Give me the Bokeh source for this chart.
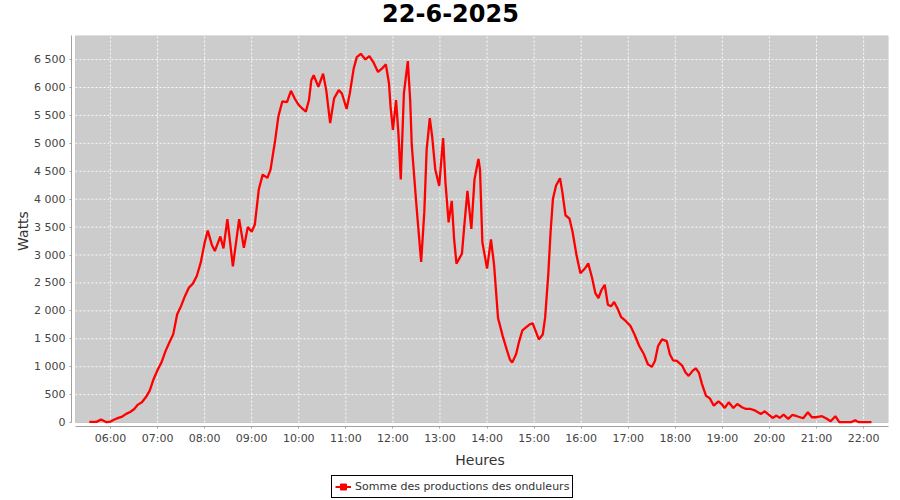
from bokeh.plotting import figure
from bokeh.layouts import column
from bokeh.models import (BoxAnnotation, FixedTicker, Legend, LegendItem, Label, Range1d)
from bokeh.embed import file_html
from bokeh.resources import INLINE

# ---- data ----
times = [
    "05:33", "05:42", "05:48", "05:55", "06:00", "06:05", "06:10", "06:15", "06:20", "06:25",
    "06:30", "06:35", "06:40", "06:45", "06:50", "06:55", "07:00", "07:05", "07:10", "07:15",
    "07:20", "07:25", "07:30", "07:35", "07:40", "07:45", "07:50", "07:55", "08:00", "08:04",
    "08:09", "08:13", "08:20", "08:24", "08:29", "08:36", "08:44", "08:50", "08:55", "09:00",
    "09:04", "09:09", "09:14", "09:20", "09:24", "09:30", "09:34", "09:39", "09:45", "09:50",
    "09:55", "10:00", "10:05", "10:09", "10:13", "10:16", "10:19", "10:25", "10:31", "10:35",
    "10:40", "10:45", "10:51", "10:55", "11:01", "11:05", "11:10", "11:14", "11:19", "11:25",
    "11:30", "11:35", "11:41", "11:46", "11:51", "11:55", "11:57", "12:00", "12:04", "12:07",
    "12:10", "12:14", "12:19", "12:22", "12:24", "12:30", "12:36", "12:40", "12:43", "12:47",
    "12:50", "12:54", "12:59", "13:04", "13:07", "13:11", "13:15", "13:18", "13:21", "13:28",
    "13:31", "13:35", "13:40", "13:44", "13:49", "13:51", "13:54", "14:00", "14:05", "14:09",
    "14:14", "14:20", "14:25", "14:29", "14:32", "14:37", "14:41", "14:45", "14:50", "14:54",
    "14:58", "15:02", "15:06", "15:11", "15:14", "15:18", "15:21", "15:24", "15:28", "15:33",
    "15:36", "15:40", "15:45", "15:49", "15:54", "15:59", "16:05", "16:09", "16:14", "16:18",
    "16:22", "16:26", "16:30", "16:34", "16:38", "16:42", "16:46", "16:51", "16:57", "17:03",
    "17:08", "17:14", "17:20", "17:25", "17:30", "17:34", "17:38", "17:43", "17:49", "17:53",
    "17:57", "18:02", "18:09", "18:13", "18:17", "18:22", "18:26", "18:30", "18:34", "18:39",
    "18:44", "18:49", "18:55", "18:59", "19:03", "19:08", "19:14", "19:19", "19:25", "19:30",
    "19:36", "19:42", "19:49", "19:54", "19:59", "20:04", "20:09", "20:13", "20:18", "20:24",
    "20:29", "20:35", "20:43", "20:49", "20:54", "21:00", "21:07", "21:12", "21:18", "21:24",
    "21:29", "21:36", "21:44", "21:49", "21:54", "22:01", "22:10",
]
watts = [
    12, 12, 54, 6, 18, 54, 83, 107, 155, 190,
    238, 321, 363, 452, 571, 780, 940, 1077, 1274, 1434,
    1583, 1940, 2089, 2268, 2417, 2488, 2625, 2863, 3220, 3440,
    3190, 3071, 3333, 3119, 3643, 2798, 3643, 3131, 3500, 3416,
    3547, 4172, 4440, 4381, 4530, 5065, 5482, 5750, 5738, 5940,
    5797, 5686, 5615, 5568, 5775, 6130, 6219, 6012, 6248, 5953,
    5361, 5805, 5953, 5893, 5615, 5893, 6337, 6544, 6603, 6503,
    6562, 6455, 6278, 6337, 6414, 6071, 5657, 5243, 5775, 5183,
    4355, 5893, 6473, 5775, 4976, 3882, 2876, 3763, 4887, 5450,
    5124, 4533, 4237, 5095, 4296, 3586, 3970, 3290, 2846, 3024,
    3527, 4148, 3467, 4355, 4722, 4533, 3231, 2757, 3278, 2817,
    1870, 1548, 1310, 1133, 1073, 1222, 1459, 1649, 1708, 1755,
    1779, 1637, 1488, 1577, 1874, 2645, 3416, 4009, 4246, 4376,
    4127, 3712, 3653, 3416, 3001, 2674, 2763, 2852, 2585, 2319,
    2230, 2378, 2467, 2111, 2081, 2158, 2052, 1886, 1815, 1726,
    1577, 1370, 1222, 1044, 996, 1103, 1370, 1488, 1459, 1222,
    1115, 1103, 1014, 895, 836, 925, 972, 895, 688, 480,
    433, 302, 380, 332, 261, 362, 261, 332, 273, 243,
    243, 213, 154, 202, 142, 83, 125, 83, 142, 65,
    136, 113, 77, 184, 95, 95, 113, 77, 24, 113,
    6, 6, 6, 42, 6, 6, 6,
]
x_tick_labels = ["06:00", "07:00", "08:00", "09:00", "10:00", "11:00", "12:00", "13:00",
                 "14:00", "15:00", "16:00", "17:00", "18:00", "19:00", "20:00", "21:00", "22:00"]
y_ticks = [0, 500, 1000, 1500, 2000, 2500, 3000, 3500, 4000, 4500, 5000, 5500, 6000, 6500]
y_tick_labels = ["0", "500", "1 000", "1 500", "2 000", "2 500", "3 000", "3 500",
                 "4 000", "4 500", "5 000", "5 500", "6 000", "6 500"]
series_name = "Somme des productions des onduleurs"
chart_title = "22-6-2025"


def to_hours(s):
    h, m = s.split(":")
    return int(h) + int(m) / 60.0


hours = [to_hours(t) for t in times]
x_ticks = [int(round(to_hours(t))) for t in x_tick_labels]

FONT = "DejaVu Sans"
RED = "#ff0000"
X_GRAY_LEFT = 5.2564
X_START = 5.1714
X_END = 22.529
Y_TOP = 6931
Y_START = -70.9
FRAME_LEFT = 71  # the strips' frames line up with the main plot's frame


def strip(height):
    f = figure(width=900, height=height, output_backend="svg", toolbar_location=None,
               title=None, x_range=Range1d(0, 1), y_range=Range1d(0, 1),
               x_axis_location=None, y_axis_location=None, min_border=0,
               background_fill_color="white", border_fill_color="white",
               outline_line_color=None)
    f.grid.visible = False
    return f


# ---- title strip ----
pt = strip(30)
pt.add_layout(Label(x=450 - FRAME_LEFT, y=18, x_units="screen", y_units="screen",
                    text=chart_title, text_align="center", text_baseline="alphabetic",
                    text_font=FONT, text_font_size="24px", text_font_style="bold",
                    text_color="#000000"))

# ---- main chart ----
p = figure(width=900, height=440, output_backend="svg", toolbar_location=None, title=None,
           x_range=Range1d(X_START, X_END), y_range=Range1d(Y_START, Y_TOP),
           min_border_left=FRAME_LEFT, min_border_right=12, min_border_top=5,
           min_border_bottom=40,
           background_fill_color="white", border_fill_color="white",
           outline_line_color=None)
p.xgrid.grid_line_color = None
p.ygrid.grid_line_color = None

# plot area (gray, offset from the axes like the original)
p.add_layout(BoxAnnotation(left=X_GRAY_LEFT, right=X_END, bottom=0, top=Y_TOP,
                           fill_color="#cccccc", fill_alpha=1.0,
                           line_color="#808080", line_width=1, level="underlay"))

# dashed white grid lines, from the tick arrays
p.segment(x0=x_ticks, x1=x_ticks, y0=[0] * len(x_ticks), y1=[Y_TOP] * len(x_ticks),
          line_color="white", line_dash="2 2", line_width=1, line_alpha=0.9)
p.segment(x0=[X_GRAY_LEFT] * (len(y_ticks) - 1), x1=[X_END] * (len(y_ticks) - 1),
          y0=y_ticks[1:], y1=y_ticks[1:],
          line_color="white", line_dash="2 2", line_width=1, line_alpha=0.9)

p.line(hours, watts, line_color=RED, line_width=2.3)

# axes
for ax in (p.xaxis[0], p.yaxis[0]):
    ax.axis_line_color = "#a0a0a0"
    ax.major_tick_line_color = "#a0a0a0"
    ax.major_tick_out = 2
    ax.major_tick_in = 0
    ax.minor_tick_out = 0
    ax.minor_tick_in = 0
    ax.major_label_text_font = FONT
    ax.major_label_text_font_size = "11px"
    ax.major_label_text_color = "#444444"
    ax.axis_label_text_font = FONT
    ax.axis_label_text_font_size = "14px"
    ax.axis_label_text_font_style = "normal"
    ax.axis_label_text_color = "#333333"

p.xaxis.ticker = FixedTicker(ticks=x_ticks)
p.xaxis.major_label_overrides = {t: lab for t, lab in zip(x_ticks, x_tick_labels)}
p.xaxis.axis_label = "Heures"
p.xaxis.bounds = (X_GRAY_LEFT, X_END)
p.xaxis.major_label_standoff = 3
p.xaxis.axis_label_standoff = 4

p.yaxis.ticker = FixedTicker(ticks=y_ticks)
p.yaxis.major_label_overrides = {t: lab for t, lab in zip(y_ticks, y_tick_labels)}
p.yaxis.axis_label = "Watts"
p.yaxis.bounds = (0, Y_TOP)
p.yaxis.major_label_standoff = 4
p.yaxis.axis_label_standoff = 0

# ---- legend strip ----
pl = strip(30)
# the series drawn again here lies entirely outside this strip's ranges: it only feeds the legend
leg_line = pl.line(hours, watts, line_color=RED, line_width=2)
leg_pts = pl.scatter(hours, watts, marker="square", size=2, color=RED)
legend = Legend(items=[LegendItem(label=series_name, renderers=[leg_line, leg_pts])],
                location=(331 - FRAME_LEFT, 2), orientation="horizontal",
                border_line_color="black", border_line_width=1, border_line_alpha=1.0,
                background_fill_color="white", background_fill_alpha=1.0,
                padding=3, margin=0, spacing=0,
                label_text_font=FONT, label_text_font_size="11px", label_text_color="#333333",
                glyph_width=16, glyph_height=15, label_height=15, label_standoff=4)
pl.add_layout(legend, "center")

layout = column(pt, p, pl, spacing=0)
open("out.html", "w").write(file_html(layout, INLINE))
